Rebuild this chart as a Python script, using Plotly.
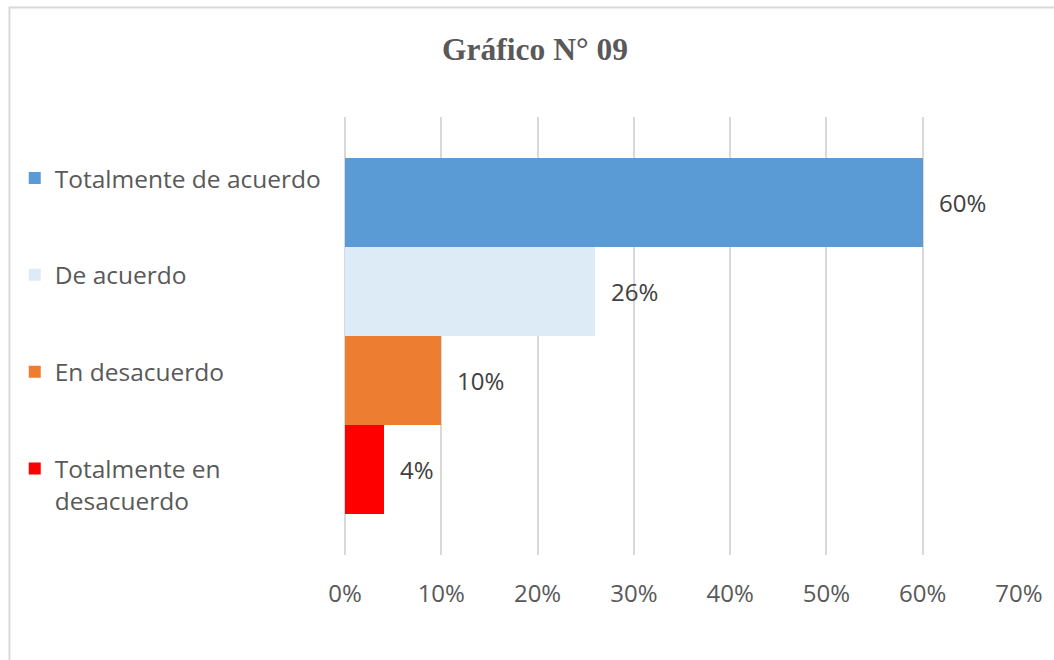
import plotly.graph_objects as go

# Data
categories = ["Totalmente de acuerdo", "De acuerdo", "En desacuerdo", "Totalmente en<br>desacuerdo"]
values = [0.60, 0.26, 0.10, 0.04]
colors = ["#5B9BD5", "#DDEBF7", "#ED7D31", "#FF0000"]
tick_vals = [0, 0.1, 0.2, 0.3, 0.4, 0.5, 0.6, 0.7]
title_text = "<b>Gráfico N° 09</b>"

FONT = "Open Sans"
GRAY = "#595959"

fig = go.Figure()

# one trace per answer so each one gets its own legend entry
n = len(categories)
for i, (cat, val, col) in enumerate(zip(categories, values, colors)):
    fig.add_trace(go.Bar(
        x=[val],
        y=[n - 1 - i],
        orientation="h",
        width=1,
        marker=dict(color=col, line=dict(width=0)),
        name=cat,
        legendgroup=str(i),
        hoverinfo="x+name",
    ))
    # data label to the right of the bar
    fig.add_annotation(
        x=val, y=n - 1 - i,
        text=f"{val:.0%}",
        showarrow=False,
        xanchor="left",
        xshift=14,
        font=dict(family=FONT, size=24, color="#404040"),
    )

# light chart border
fig.add_shape(
    type="rect", xref="paper", yref="paper",
    x0=-0.4978, x1=1.08, y0=-0.3, y1=1.25,
    line=dict(color="#D9D9D9", width=2),
    fillcolor="rgba(0,0,0,0)",
    layer="below",
)

fig.update_layout(
    width=1054,
    height=660,
    paper_bgcolor="white",
    plot_bgcolor="white",
    margin={"l": 345, "r": 35, "t": 117, "b": 105},
    title=dict(
        text=title_text,
        x=535 / 1054, xref="container", xanchor="center",
        y=1 - 49 / 660, yref="container", yanchor="middle",
        font=dict(family="Liberation Serif", size=31.5, color=GRAY),
    ),
    bargap=0,
    showlegend=True,
    legend=dict(
        x=-0.49, xanchor="left",
        y=0.912, yanchor="top",
        tracegroupgap=62,
        valign="top",
        font=dict(family=FONT, size=24.5, color=GRAY),
        bgcolor="rgba(0,0,0,0)",
        traceorder="grouped",
    ),
    xaxis=dict(
        range=[0, 0.7],
        tickvals=tick_vals,
        tickformat=".0%",
        showgrid=True,
        gridcolor="#D9D9D9",
        gridwidth=1.5,
        zeroline=True,
        zerolinecolor="#D9D9D9",
        zerolinewidth=1.5,
        showline=False,
        ticks="",
        ticklabelstandoff=22,
        tickfont=dict(family=FONT, size=24, color=GRAY),
        fixedrange=True,
    ),
    yaxis=dict(
        range=[-0.96, 3.96],
        showticklabels=False,
        showgrid=False,
        zeroline=False,
        ticks="",
        fixedrange=True,
    ),
)

# drop the default page margin so the figure sits at the window origin
fig.write_html(
    "out.html",
    config={"displayModeBar": False},
    post_script="document.body.style.margin='0';",
)
